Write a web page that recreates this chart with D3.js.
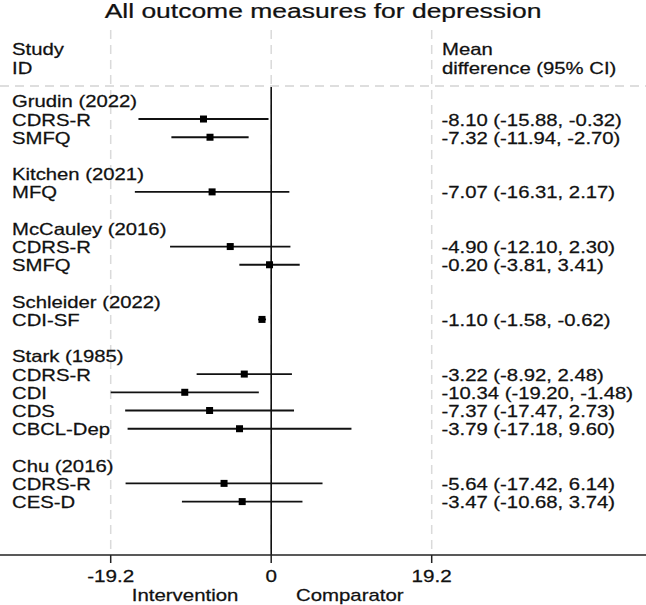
<!DOCTYPE html>
<html>
<head>
<meta charset="utf-8">
<script src="https://cdn.jsdelivr.net/npm/d3@7"></script>
<style>
  html, body { margin: 0; padding: 0; background: #fff; }
  svg { display: block; }
  text { font-family: "Liberation Sans", Arial, Helvetica, sans-serif; fill: #111; stroke: #111; stroke-width: 0.25; }
</style>
</head>
<body>
<svg id="chart" width="646" height="605"></svg>
<script>
// ---- data ----
const studies = ["Grudin (2022)", "Kitchen (2021)", "McCauley (2016)", "Schleider (2022)", "Stark (1985)", "Chu (2016)"];
const outcomeStudy = [0, 0, 1, 2, 2, 3, 4, 4, 4, 4, 5, 5];
const outcomes = ["CDRS-R", "SMFQ", "MFQ", "CDRS-R", "SMFQ", "CDI-SF", "CDRS-R", "CDI", "CDS", "CBCL-Dep", "CDRS-R", "CES-D"];
const meanDiff = [-8.10, -7.32, -7.07, -4.90, -0.20, -1.10, -3.22, -10.34, -7.37, -3.79, -5.64, -3.47];
const ciLow = [-15.88, -11.94, -16.31, -12.10, -3.81, -1.58, -8.92, -19.20, -17.47, -17.18, -17.42, -10.68];
const ciHigh = [-0.32, -2.70, 2.17, 2.30, 3.41, -0.62, 2.48, -1.48, 2.73, 9.60, 6.14, 3.74];
const xTicks = [-19.2, 0, 19.2];
const titleText = "All outcome measures for depression";
const headLeft = ["Study", "ID"];
const headRight = ["Mean", "difference (95% CI)"];
const favours = [{label: "Intervention", at: -10.3}, {label: "Comparator", at: 9.4}];

// ---- build rows ----
const rows = [];
studies.forEach((s, si) => {
  if (si > 0) rows.push({type: "blank"});
  rows.push({type: "study", label: s});
  outcomes.forEach((o, i) => {
    if (outcomeStudy[i] === si) rows.push({type: "outcome", label: o, md: meanDiff[i], lo: ciLow[i], hi: ciHigh[i]});
  });
});

const W = 646, H = 605;
const SX = 1.245; // horizontal text stretch as in reference
const FS = 16.3;
const svg = d3.select("#chart");

const x = d3.scaleLinear().domain([-19.2, 19.2]).range([110.7, 431.7]);
const y = d3.scaleLinear().domain([0, rows.length - 1]).range([100.8, 501.6]);
const axisY = 555, topLine = 86, gridTop = 30;
const fmt = v => v.toFixed(2);

function txt(g, str, px, py, size, anchor) {
  return g.append("text")
    .attr("transform", `translate(${px},${py}) scale(${SX},1)`)
    .attr("text-anchor", anchor || "start")
    .attr("font-size", size)
    .text(str);
}

// gridlines (dashed)
svg.append("g").selectAll("line").data(xTicks).join("line")
  .attr("x1", d => x(d)).attr("x2", d => x(d))
  .attr("y1", gridTop).attr("y2", axisY)
  .attr("stroke", "#dadada").attr("stroke-width", 1.5)
  .attr("stroke-dasharray", "9,6");

svg.append("line")
  .attr("x1", 0).attr("x2", W).attr("y1", topLine).attr("y2", topLine)
  .attr("stroke", "#d4d4d4").attr("stroke-width", 1.5)
  .attr("stroke-dasharray", "9,6");

// zero line
svg.append("line")
  .attr("x1", x(0)).attr("x2", x(0)).attr("y1", topLine + 1).attr("y2", axisY)
  .attr("stroke", "#111").attr("stroke-width", 1.6);

// title
txt(svg, titleText, W / 2, 17.5, 20.6 * 1.285 / SX / 1.0 > 0 ? 20.6 : 20.6, "middle")
  .attr("transform", `translate(${W / 2},17.5) scale(1.285,1)`);

// headers
const hg = svg.append("g");
headLeft.forEach((t, i) => txt(hg, t, 12, 54.5 + i * 19, FS));
headRight.forEach((t, i) => txt(hg, t, 442, 54.5 + i * 19, FS));

// rows
const rg = svg.append("g");
rows.forEach((r, i) => {
  if (r.type === "blank") return;
  const cy = y(i);
  txt(rg, r.label, 12, cy + 6.5, FS);
  if (r.type === "outcome") {
    rg.append("line")
      .attr("x1", x(r.lo)).attr("x2", x(r.hi))
      .attr("y1", cy).attr("y2", cy)
      .attr("stroke", "#111").attr("stroke-width", 1.8);
    rg.append("rect")
      .attr("x", x(r.md) - 3.5).attr("y", cy - 3.5)
      .attr("width", 7).attr("height", 7)
      .attr("fill", "#000");
    txt(rg, `${fmt(r.md)} (${fmt(r.lo)}, ${fmt(r.hi)})`, 441.5, cy + 6.5, FS);
  }
});

// x axis
svg.append("line")
  .attr("x1", 0).attr("x2", W).attr("y1", axisY).attr("y2", axisY)
  .attr("stroke", "#222").attr("stroke-width", 1.6);
const ag = svg.append("g");
xTicks.forEach(t => {
  ag.append("line")
    .attr("x1", x(t)).attr("x2", x(t)).attr("y1", axisY).attr("y2", axisY + 8)
    .attr("stroke", "#222").attr("stroke-width", 1.5);
  txt(ag, String(t), x(t), 582, 16.6, "middle");
});
favours.forEach(f => txt(ag, f.label, x(f.at), 600.5, 16.4, "middle"));
</script>
</body>
</html>
